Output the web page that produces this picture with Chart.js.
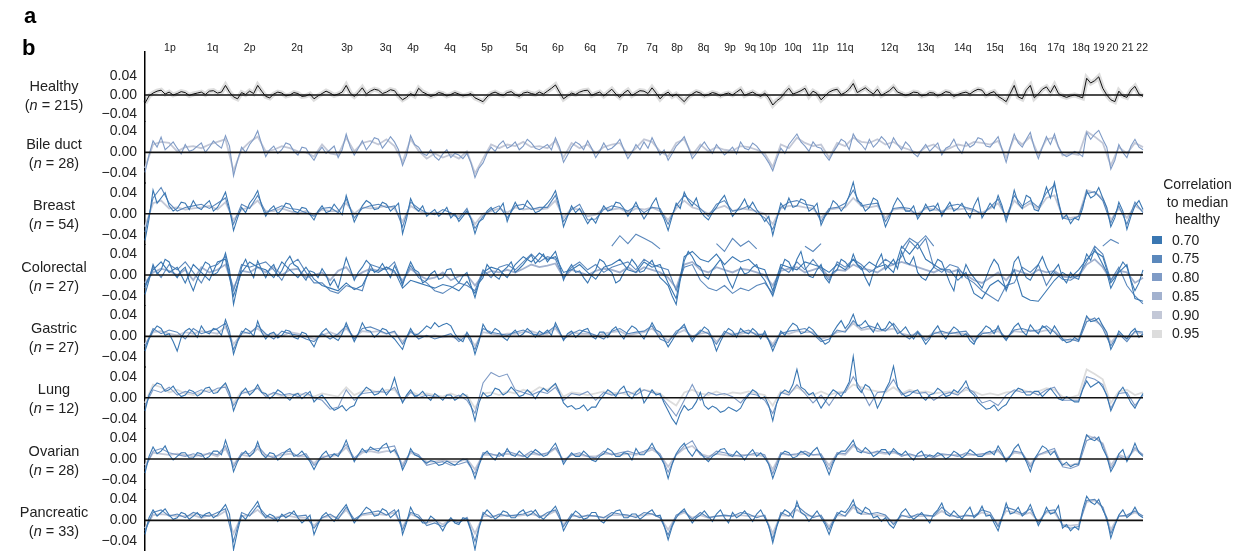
<!DOCTYPE html>
<html>
<head>
<meta charset="utf-8">
<script src="https://cdn.jsdelivr.net/npm/chart.js@4.4.1/dist/chart.umd.min.js"></script>
<style>
  body { margin: 0; background: #fff; font-family: 'Liberation Sans', Arial, sans-serif; color: #222; }
  #wrap { position: relative; width: 1259px; height: 551px; overflow: hidden; }
  #chart { position: absolute; left: 0; top: 0; }
  .panel { position: absolute; font-weight: bold; font-size: 22px; line-height: 22px; color: #000; }
  .rowlab { position: absolute; left: 4px; width: 100px; text-align: center; font-size: 14.5px; line-height: 19px; }
  #legend { position: absolute; left: 1150px; top: 176px; width: 95px; font-size: 14px; }
  #legend .ltitle { text-align: center; line-height: 17.5px; margin-bottom: 2px; }
  #legend .item { height: 18.8px; line-height: 18.8px; padding-left: 2px; white-space: nowrap; }
  #legend .sw { display: inline-block; width: 10px; height: 8px; margin-right: 10px; vertical-align: middle; position: relative; top: -1px; }
</style>
</head>
<body>
<div id="wrap">
  <canvas id="chart" width="1259" height="551"></canvas>
  <div class="panel" style="left:24px; top:5px;">a</div>
  <div class="panel" style="left:22px; top:37px;">b</div>
  <div id="legend">
    <div class="ltitle">Correlation<br>to median<br>healthy</div>
    <div id="litems"></div>
  </div>
</div>
<script>
// profile values are in units of 0.001; 125 coarse genome bins (some series at half-bin steps)
const binCount = 125;
const rowNames = ['Healthy', 'Bile duct', 'Breast', 'Colorectal', 'Gastric', 'Lung', 'Ovarian', 'Pancreatic'];
const rowCounts = [215, 28, 54, 27, 27, 12, 28, 33];
const yTicks = [-40, 0, 40];

const armLabels = ['1p','1q','2p','2q','3p','3q','4p','4q','5p','5q','6p','6q','7p','7q','8p','8q','9p','9q','10p','10q','11p','11q','12q','13q','14q','15q','16q','17q','18q','19','20','21','22'];
const armBins = [3.1,8.4,13.0,18.9,25.1,29.9,33.3,37.9,42.5,46.8,51.3,55.3,59.3,63.0,66.1,69.4,72.7,75.2,77.4,80.5,83.9,87.0,92.5,97.0,101.6,105.6,109.7,113.2,116.3,118.5,120.2,122.1,123.9];

const corrLevels = ['0.70', '0.75', '0.80', '0.85', '0.90', '0.95'];

const healthy = [
  -17,-2, 4,8, 10,2, 6,0, 3,7, 5,-1, 2,4, 6,1, 8,9, 4,6, 20,6, -4,-8, 5,1, 8,3, 20,8, -3,-6, 2,6, 4,-2, 0,5, 3,-3, -2,2, -8,-2, 3,8, 4,-1, 2,6,
  20,4, -3,5, 15,2, 8,12, 10,3, 6,11, 9,-2, -10,-5, 3,-2, 14,6, 2,-3, 0,5, 3,-2, 1,5, 2,-2, 0,3, -6,-10, -14,-4, 3,6, 2,-1, 5,7, 1,-3, 4,6, 3,1, 6,2,
  8,14, 21,6, -8,-2, 4,1, 6,9, 10,-1, 3,6, -2,5, 12,2, -5,4, 10,-1, 4,9, 8,3, 15,4, -8,1, 6,-3, 2,-6, -14,-4, 2,7, 4,-2, 1,5, 3,-2, 2,4, 0,6, 12,-1,
  3,6, 1,-3, 4,-6, -21,-12, -6,5, 14,2, 5,9, 14,-2, 8,3, -10,-2, 6,10, 12,1, 5,12, 24,5, 10,15, 8,2, 12,-1, 4,9, 17,6, 3,-1, 2,6, 5,-2, 0,5, 4,-2, 2,7,
  5,-3, 1,4, 6,2, 8,12, 10,-1, 4,7, -3,-8, -14,3, 20,-4, -8,10, 20,-6, 2,12, 17,5, 20,3, -2,-5, -2,0, -3,-6, 35,25, 30,38, 14,0, -10,-14, 8,-2, -5,10, 18,2, -3
];

const bileA = [
  -38,-5, 22,10, 29,5, 12,20, 8,-3, 15,2, 5,12, 18,0, 10,22, 14,8, 32,12, -45,-15, 10,0, 15,25, 41,15, -8,5, 12,-2, 5,18, 15,2, -5,10, 8,-5, -15,0, 10,-2, 5,12, -10,5,
  35,10, -5,8, 22,5, 15,28, 25,8, 18,30, 20,5, -25,-5, 32,15, 10,-2, -6,5, -8,-15, -3,5, -10,-2, -5,-12, -2,-20, -48,-30, -20,-2, 10,2, 15,22, 8,12, 20,5, 12,25, 18,8, 5,10,
  15,5, 28,10, -19,-5, 10,20, 15,5, 22,8, -10,2, 18,5, 8,15, 25,5, -12,0, 15,5, 20,8, 28,12, -5,5, -15,-2, 12,20, 30,10, -12,-2, 10,20, 8,-2, 15,5, -5,2, 10,-3, 20,8,
  5,18, 12,2, -8,-20, -35,-12, 8,-2, 15,25, 35,20, 12,2, 20,10, 8,-5, -15,0, 12,25, 20,5, 35,22, 15,5, 25,10, 18,30, 22,8, 28,15, 5,20, 12,-2, -8,5, 15,2, 10,18, -5,8,
  12,25, 8,-2, 20,10, 15,28, 25,12, 10,20, 30,5, -19,10, 35,18, 10,25, 38,8, -12,10, 30,15, 35,10, -3,-8, -4,2, -2,-8, 38,25, 35,42, 25,10, -32,-15, 15,0, -10,12, 25,10, 5
];
const bileB = [
  -30, 15, 20, 18, 2, 10, 12, 8, 15, 20, 25, -35, 5, 20, 30, 2, 5, 12, 8, 2, 0, -8, 15, -2, -5,
  28, 2, 18, 22, 15, 25, 12, -18, 25, 3, -12, -2, -10, -4, -12, 2, -40, -12, 15, 8, 15, 12, 20, 10, 12,
  8, 22, -10, 18, 8, 15, -2, 10, 15, 18, -5, 8, 25, 20, 2, -8, 18, 25, -5, 15, 2, 10, 5, 3, 12,
  10, 5, -2, -28, 15, 8, 28, 18, 12, 15, -10, 18, 12, 28, 20, 18, 25, 15, 20, 10, 5, -2, 10, 15, 2,
  8, 15, 12, 20, 18, 15, 22, -10, 28, 15, 30, -5, 25, 28, -6, -2, -5, 40, 30, 18, -25, 10, -2, 18, 10
];

const breastA = [
  -51,-10, 45,20, 30,40, 15,5, 10,22, 20,8, 25,12, 8,18, 25,5, 12,25, 41,10, -32,-8, 12,2, 20,30, 44,15, -5,8, 15,0, 8,20, 18,5, 2,12, 10,-2, -12,5, 15,2, 5,18, 8,-2,
  35,10, -16,0, 15,25, 20,8, 10,22, 18,5, 12,20, -38,-10, 29,12, 5,15, -5,2, 8,-5, 2,12, -8,0, -15,-5, 5,-10, -38,-15, -10,5, 12,0, 8,20, -15,5, 22,8, 10,25, 15,2, 5,12,
  20,30, 44,15, -25,-5, 15,2, 10,-5, -19,-8, -18,0, 15,5, 8,22, 20,10, -5,8, 22,5, -10,2, 18,30, 5,-10, -32,-5, 20,10, 41,25, 15,30, 5,-5, -12,2, 12,25, 35,15, -5,5, 15,28,
  10,22, 8,-2, -15,-5, -41,-10, 20,8, 30,12, 15,28, 25,5, 10,20, -22,-5, 5,25, 18,5, 15,35, 60,25, 20,5, 12,30, 25,2, -25,-8, 15,30, 20,5, 5,15, -10,2, 18,5, 8,20, -5,10,
  22,5, 10,20, 5,-8, 15,30, -8,5, 20,10, 35,15, -15,10, 45,20, 10,35, 30,8, 5,25, 51,30, 60,20, -10,-2, -19,-8, -12,10, 44,30, 35,50, 30,12, -25,-8, 22,5, -30,-5, 15,25, 8
];
const breastB = [
  -35, 30, 50, 20, 5, 12, 15, 18, 10, 20, 30, -20, 18, 10, 35, 2, 8, 15, 10, 8, 2, -5, 10, 12, 2,
  28, -8, 10, 15, 18, 12, 15, -25, 22, 10, 2, -2, 8, 2, -10, 10, -28, -5, 8, 15, -8, 15, 18, 8, 12,
  12, 35, -15, 8, 18, -12, -10, 8, 15, 12, 5, 15, 2, 12, 10, -20, 15, 35, 22, 10, -5, 18, 25, 5, 8,
  15, 2, -8, -30, 12, 22, 25, 18, 15, -15, 10, 12, 20, 45, 15, 18, 20, -15, 10, 12, 10, -5, 12, 15, 2,
  15, 18, 12, 8, -2, 12, 28, -8, 35, 15, 25, 12, 40, 55, -8, -12, -5, 38, 42, 25, -18, 15, -20, 22, 2
];
const breastC = [
  -25, 20, 25, 10, 12, 8, 10, 12, 15, 8, 22, -12, 8, 12, 25, 5, 5, 10, 5, 0, 5, -2, 8, 5, 5,
  20, 0, 12, 10, 12, 15, 10, -15, 15, 5, 0, 2, 0, -2, -5, 5, -20, 0, 5, 10, 2, 12, 8, 10, 8,
  10, 25, -8, 10, 8, -5, -2, 10, 8, 10, 2, 10, 8, 12, 5, -12, 10, 25, 12, 8, 0, 10, 15, 5, 10,
  8, 5, 0, -20, 10, 15, 15, 12, 10, -8, 8, 10, 12, 30, 15, 12, 15, -8, 8, 10, 5, 0, 10, 8, 5,
  10, 8, 10, 5, 2, 10, 20, -5, 25, 10, 20, 8, 30, 35, -5, -8, -5, 45, 40, 30, -12, 10, -8, 15, 5
];

const crcA = [
  -37,-10, 20,2, 10,30, 25,5, -5,8, 15,-12, -30,-8, 10,25, 20,0, 5,18, 42,10, -56,-20, 15,30, 10,-5, 27,10, -5,12, 20,-2, 8,25, 36,20, 15,0, -10,8, 5,-5, 12,0, -20,-8, -25,5,
  33,12, -10,5, 15,28, 20,5, 10,22, 8,-5, 18,2, -20,5, 25,10, 5,-15, -10,2, 8,-8, -5,10, 12,-5, -15,-2, 5,-20, -43,-15, -5,20, 10,-2, -8,8, 15,25, 5,12, 20,30, 38,22, 30,40,
  25,35, 45,20, -10,8, 20,5, 8,-5, -15,0, 10,30, 25,12, 5,-15, -10,5, 15,30, 20,5, 8,20, 28,10, -5,-12, -20,-40, -56,-10, 27,45, 35,20, 15,-2, -8,10, 20,30, 10,-10, -25,-5, 15,2,
  5,15, 20,0, -10,-25, -40,-15, 10,30, 25,8, 30,45, 15,-2, -5,10, 20,-5, -15,5, 10,30, 25,15, 40,20, 15,-5, -20,5, 25,40, 10,20, 30,12, 45,25, 20,35, 5,-5, -10,5, 15,30, 25,5,
  -15,-30, 10,-5, 20,5, -5,-15, -25,-5, 15,30, 20,-5, -30,-10, 25,35, 10,-5, -10,5, 20,35, 15,0, 10,20, -5,-15, 5,-5, -8,15, 40,28, 50,35, 20,5, -25,-10, 10,25, 15,-10, -30,-15, 10
];
const crcB = [
  -20, 10, 25, 5, 15, -15, 20, 5, -10, 25, 30, -40, 5, 25, 15, 10, -5, 25, 10, -5, 15, -8, -20, -25, -30,
  -15, -28, -20, 10, 5, 15, 8, -25, -10, -15, -20, -25, -18, -22, -30, -12, -35, 5, 15, 10, -5, 20, 35, 25, 42,
  30, 35, 5, 10, 20, 5, -8, 15, 20, 30, 10, 5, 25, 15, 20, -15, -45, 35, 45, 30, 25, 40, 20, 35, 25,
  30, 15, 10, -30, 20, 15, 10, 25, 20, 15, 5, 20, 10, 30, 10, 25, 15, 20, 5, 55, 40, 60, 30, 20, 10,
  10, -10, 5, -35, -45, -20, -10, -25, 10, -40, -48, -50, -30, -10, 5, -5, 10, 30, 45, 35, -15, 5, 20, -45, -50
];
const crcC = [
  -25, 15, -5, 20, 10, 25, 5, -15, 15, 20, 35, -30, 20, 15, 20, 25, 10, -10, 20, 30, 5, -15, -15, -30, -35,
  -20, -25, -30, 20, 15, 10, 25, -15, 18, -5, -15, -30, -35, -25, -15, -20, -30, 10, -5, 15, 20, 10, 25, 40, 25,
  35, 30, -5, 15, 25, 10, 20, 5, 15, 20, 25, 10, 30, 20, 15, 10, -30, 15, 20, -10, -25, -30, -20, -35, -25,
  -30, -20, -15, -35, 15, 5, 25, 10, 30, 10, -10, 25, 15, 30, 20, 5, 15, 30, 20, 35, 65, 50, 70, 15, 5,
  20, 15, -5, -15, -30, -40, -50, -20, -15, 15, 5, 20, -20, 5, -8, -10, 0, 25, 55, 40, -10, 15, -20, -40, -55
];
const crcD = [
  -15, 5, 12, 8, 0, 10, -10, 15, 5, 10, 20, -25, 8, 5, 15, 5, 15, 0, 10, 12, -5, 0, 5, -10, 8,
  15, -5, 5, 12, 8, 15, 5, -10, 12, 0, -8, -5, 5, -10, -2, 0, -20, 0, 8, 5, 10, 5, 12, 20, 15,
  18, 22, -5, 10, 5, 0, 8, 12, 10, 5, 15, 5, 15, 10, 5, -5, -25, 20, 25, 10, 5, 15, 10, 5, 12,
  10, 5, 0, -20, 8, 12, 15, 5, 10, 15, -5, 10, 8, 20, 12, 10, 5, 15, 20, 25, 20, 15, 10, 5, 12,
  5, 10, 0, -10, -15, -5, 5, -10, 10, 5, 0, 10, 5, 8, -3, -5, -2, 20, 30, 15, -10, 8, 5, -15, -5
];
// colorectal samples that sit far above the rest on a few arms: [first bin, values]
const crcSegments = [
  [58, [55, 75, 60, 78, 70, 62, 50]],
  [71, [60, 45, 70, 55, 65, 50]],
  [82, [55, 45, 60]],
  [94, [50, 70, 60, 75, 55]],
  [119, [55, 68, 60]]
];

const gastricA = [
  -28,-5, 10,20, 15,2, 5,-10, -28,-2, 10,15, 8,-2, 20,8, 5,15, 12,2, 32,10, -34,-10, 5,15, 10,0, 29,8, -5,5, 8,-3, 2,12, 10,-2, -5,8, 5,-8, -20,-2, 8,15, 5,-3, -8,5,
  26,8, -10,5, 26,12, 10,-2, 5,15, 12,2, -5,-15, -25,-2, 15,2, 5,12, 20,15, 26,18, 22,25, 20,5, -5,-10, 8,-5, -34,-10, 23,10, 5,15, 10,-2, -8,5, 12,0, 5,15, 8,-2, 10,5,
  12,2, 26,10, -8,5, 10,-2, 5,12, 15,0, -5,8, 8,-2, 12,18, 5,-5, 10,20, 15,5, -5,10, 26,12, 8,-5, -20,-8, 5,15, 23,5, -10,2, 8,18, 12,-5, -28,-10, 5,15, 10,-2, 15,8,
  5,15, 8,-5, 10,-8, -28,-10, 10,2, 15,25, 20,5, 8,18, 12,2, -5,-15, -10,8, 20,30, 15,25, 42,20, 22,30, 18,8, 25,12, 15,28, 20,5, 10,18, 5,-5, 8,-2, -15,-5, 10,20, 5,-5,
  8,18, 12,0, 5,-8, -15,2, 10,20, 15,5, 20,2, -8,5, 18,25, 10,2, 22,12, 5,20, 15,5, 20,8, -5,-12, -10,-2, -8,15, 39,28, 30,35, 20,8, -25,-10, 10,2, -5,8, 15,-2, 5
];
const gastricB = [
  -20, 15, 5, 12, 8, -5, 15, 5, 10, 15, 25, -25, 10, 5, 20, 5, -5, 10, 5, 2, -5, -10, 5, -5, 5,
  20, -5, 15, 18, 12, 5, 10, -15, 10, -5, 2, -5, 0, 5, -10, 2, -25, 15, 8, 5, 2, 8, 12, 5, 2,
  8, 20, -5, 5, 12, 8, 2, -5, 10, 15, 5, 8, 10, 20, -5, -12, 10, 18, -5, 12, 5, -15, 10, 2, 8,
  12, 2, 5, -20, 5, 10, 12, 15, 5, -10, -5, 12, 8, 30, 15, 20, 15, 10, 25, 5, -5, 10, -8, 5, 10,
  5, 8, 10, -10, 5, 8, 15, -5, 12, 15, 10, 12, 20, 8, -8, -5, -10, 28, 35, 15, -18, 5, -10, 10, 8
];
const gastricC = [
  -15, 8, 10, 5, 2, 8, 5, 10, 8, 5, 18, -15, 5, 8, 15, 2, 5, 0, 8, 5, 0, -5, 2, 8, 2,
  15, -2, 10, 8, 10, 5, 8, -10, 8, 2, 0, 2, -2, 0, -5, 5, -18, 8, 5, 2, 5, 5, 8, 10, 5,
  5, 15, -5, 8, 5, 5, 0, 5, 8, 10, 2, 5, 8, 15, 2, -8, 5, 12, 0, 5, 8, -10, 5, 5, 5,
  8, 5, 2, -15, 8, 5, 10, 8, 8, -5, 0, 8, 10, 25, 12, 15, 10, 12, 15, 5, 2, 5, -5, 8, 5,
  8, 5, 5, -5, 8, 5, 10, -2, 10, 8, 12, 8, 12, 10, -5, -8, -5, 35, 30, 20, -12, 5, -5, 8, 5
];

const lungA = [
  -25,5, 20,28, 25,12, 15,22, 10,2, 5,15, 12,3, 8,18, 20,8, 10,20, 28,10, -25,-5, 10,18, 5,12, 25,10, 8,-2, 5,15, 10,2, -5,5, 8,-2, 5,12, -8,0, 5,-5, -16,-24, -20,-15,
  -25,-18, -15,2, 10,20, 15,5, 8,18, 5,15, 38,10, -10,5, 15,2, 5,12, 2,-5, 8,2, -5,5, 5,-5, 0,8, 2,-15, -44,-10, 10,2, 5,18, 15,5, 10,20, 12,2, 5,15, 8,-2, 10,18,
  12,20, 27,10, -10,-18, -15,-22, -20,-14, -25,-18, -18,-5, 5,15, 10,2, 15,22, 5,-2, 10,18, -10,2, 15,5, 8,-10, -25,-40, -51,-30, -15,-24, -20,-8, 10,-15, -22,-16, -20,-28, -25,-18, -22,-26, -20,-5,
  5,15, 10,-2, 2,-15, -44,-10, 8,15, 10,25, 54,20, 15,5, 10,-5, -20,-8, 5,15, 10,2, 15,30, 79,20, 10,25, 20,5, -20,-5, 15,30, 60,20, 10,2, 5,12, 15,2, -5,5, 8,18, 12,2,
  5,15, 10,20, 32,12, 5,-8, -15,-22, -20,-14, -25,-18, -13,0, 10,18, 15,5, 5,12, 12,2, 10,18, 8,-2, -5,2, -3,-8, -8,15, 32,20, 25,30, 20,5, -25,-8, 10,20, 5,-10, -20,-5, 8
];
const lungB = [
  -15, 15, 10, 20, 5, 12, 8, 15, 10, 18, 20, -15, 8, 12, 18, 2, 10, 5, 8, 2, 10, 0, -5, -22, -18,
  15, -5, 8, 10, 12, 10, 20, -8, 10, 0, 5, 2, 0, -2, 5, -5, -30, 28, 48, 40, 45, 15, 10, 5, 12,
  8, 20, -5, 8, 5, 12, -5, 10, 5, 8, 12, 5, 15, 10, 5, -15, -35, -5, 25, -5, 10, 5, 8, 2, -10,
  8, 5, -5, -30, 10, 5, 25, 8, -10, 5, -15, 8, 10, 40, 15, -15, 10, 12, 35, 5, 12, 8, 10, -5, 5,
  10, 5, 20, 10, -10, -5, -15, 5, 15, 10, 12, 5, 15, 20, -5, -5, -5, 40, 35, 25, -20, 8, 10, -15, 5
];
const lungC = [
  -10, 25, 20, 10, 15, 8, 5, 10, 15, 12, 25, -10, 12, 8, 20, 5, 8, 2, 5, 8, 5, 2, 8, 5, 2,
  20, 5, 12, 15, 10, 15, 15, -5, 12, 5, 8, 5, 2, 8, 2, 5, -20, 8, 10, 5, 12, 8, 15, 10, 20,
  15, 25, 2, 10, 8, 5, 8, 12, 8, 10, 5, 12, 15, 12, 8, -5, -15, 10, 15, 8, 5, 12, 5, 10, 8,
  12, 8, 5, -15, 12, 8, 20, 10, 5, 12, 5, 10, 12, 25, 20, 15, 12, 10, 20, 8, 15, 10, 12, 8, 10,
  12, 8, 15, 12, 5, 8, 5, 10, 12, 15, 10, 12, 18, 15, 2, 0, 5, 54, 45, 35, -10, 12, 15, 5, 10
];

const ovarianA = [
  -27,5, 23,10, 15,25, 8,-2, 5,12, 12,2, 2,12, 10,0, 5,15, 15,8, 36,12, -24,-5, 8,15, 5,12, 33,10, 2,12, 10,-2, 5,15, 20,5, 8,15, 5,-5, -20,-5, 8,15, 2,10, 5,18,
  36,15, -5,8, 20,12, 23,18, 15,25, 30,12, 18,5, -21,-5, 20,8, 5,-2, -8,-3, -5,-12, -10,-4, -8,-12, -5,0, -2,-15, -37,-12, 8,15, 5,-2, 12,5, 20,8, 5,15, 8,2, 10,18, 12,5,
  8,20, 30,12, -10,2, 12,5, 5,15, 8,-2, -5,5, 10,20, 15,5, 5,12, 10,-2, 20,8, 8,18, 30,15, 5,-10, -37,-10, 10,22, 30,15, 5,18, 12,2, -5,5, 10,18, 20,8, 5,15, 8,-2,
  10,18, 5,12, 2,-10, -37,-15, 8,15, 12,2, 5,15, 10,5, 15,22, 5,-10, -30,-8, 8,15, 15,25, 36,15, 12,22, 15,5, 10,18, 18,8, 20,12, 8,15, 5,-2, 10,15, 2,8, 5,12, 8,0,
  5,15, 10,2, 8,18, 12,5, 5,12, 15,8, 25,12, -5,5, 20,28, 10,-5, -24,0, 12,25, 20,8, 15,-2, -12,-6, -15,-10, -10,20, 46,38, 35,42, 20,5, -24,-10, 10,18, -5,10, 30,12, 5
];
const ovarianB = [
  -18, 15, 20, 12, 8, 5, 10, 5, 12, 8, 25, -15, 12, 10, 25, 8, 2, 12, 15, 5, 10, -12, 2, 8, 10,
  28, 2, 15, 18, 20, 22, 25, -15, 15, 8, -12, -8, -5, -12, -10, -5, -28, 12, 10, 5, 15, 10, 5, 15, 8,
  12, 22, -5, 8, 12, 5, 2, 15, 8, 12, 15, 10, 15, 22, 10, -25, 8, 25, 35, 8, 2, 15, 12, 8, 5,
  8, 12, 8, -28, 12, 8, 10, 15, 8, 10, -20, 12, 10, 28, 15, 10, 15, 12, 15, 5, 10, 5, 8, 2, 10,
  8, 5, 12, 8, 10, 12, 18, -2, 15, 12, -15, 8, 15, 20, -15, -18, -12, 35, 42, 28, -18, 5, -2, 22, 8
];
const ovarianC = [
  -12, 12, 10, 8, 10, 8, 5, 8, 10, 5, 20, -10, 8, 5, 20, 5, 5, 8, 10, 5, 5, -8, 5, 5, 8,
  22, 0, 12, 15, 12, 15, 15, -10, 12, 5, -5, -5, -2, -5, -5, 0, -20, 8, 8, 8, 10, 8, 5, 10, 8,
  10, 20, -2, 8, 8, 5, 5, 10, 10, 8, 10, 8, 12, 18, 8, -15, 8, 20, 25, 10, 5, 10, 8, 5, 8,
  8, 8, 5, -20, 10, 8, 8, 10, 8, 8, -12, 10, 8, 25, 15, 12, 12, 10, 12, 8, 8, 5, 8, 5, 8,
  8, 8, 8, 8, 8, 10, 15, 0, 12, 10, -10, 8, 12, 15, -10, -12, -8, 45, 40, 30, -12, 8, 2, 18, 8
];

const pancA = [
  -27,5, 20,8, 15,22, 10,2, 5,15, 12,2, 8,15, 5,12, 15,5, 10,20, 30,12, -56,-20, 10,2, 15,25, 36,15, 5,12, 8,-2, 12,5, 10,18, 5,-5, 2,10, -27,-8, 8,15, 5,-2, 10,20,
  30,12, -5,5, 15,25, 20,8, 10,22, 18,5, 12,20, -27,-5, 25,10, 5,-5, -5,8, 2,-8, -20,-5, 5,-5, -8,5, 2,-20, -56,-15, 10,20, 12,2, 8,18, 15,5, 5,15, 20,8, 12,20, 8,2,
  10,18, 27,10, -20,-5, 8,18, 12,2, 5,15, 15,0, -5,5, 10,18, 20,5, 5,12, 12,2, 8,15, 20,8, 10,-10, -37,-12, 5,15, 22,8, -5,5, 10,18, 8,-2, 12,20, 5,-5, 15,5, 10,18,
  8,-2, 12,20, 5,-10, -43,-12, 10,20, 15,5, 36,15, 10,-2, 8,18, 5,-8, -27,-5, 10,18, 15,25, 39,15, 12,25, 20,5, 8,-2, 5,-8, -15,0, 15,22, 10,2, 8,15, 5,-5, 12,20, 33,12,
  8,18, 10,2, 15,25, 5,12, 27,8, 10,-5, -20,5, 33,12, 15,25, 8,15, 30,10, -10,5, 25,12, 15,28, -15,-8, -20,-12, -18,20, 46,35, 30,40, 20,5, -34,-10, 10,20, 5,12, 25,10, 5
];
const pancB = [
  -20, 15, 20, 8, 12, 5, 15, 10, 8, 15, 22, -40, 15, 8, 28, 10, 2, 8, 15, 8, 10, -15, 5, 12, 2,
  25, 2, 12, 15, 18, 10, 20, -18, 15, 10, -10, -5, -12, 0, -5, 5, -40, 15, 5, 12, 8, 10, 12, 18, 5,
  15, 20, -12, 12, 5, 10, 8, 5, 15, 12, 10, 5, 15, 12, 5, -28, 10, 18, 2, 15, 5, 8, 10, 8, 15,
  12, 5, 10, -35, 15, 8, 28, 15, 5, 10, -18, 15, 8, 30, 18, 12, 15, 10, -8, 10, 5, 12, 10, 8, 25,
  12, 5, 10, 8, 20, 15, -12, 25, 20, 12, 22, -5, 18, 20, -10, -15, -12, 38, 40, 25, -25, 8, 10, 18, 8
];
const pancC = [
  -15, 10, 12, 10, 8, 8, 10, 5, 10, 8, 18, -25, 8, 10, 20, 5, 5, 8, 8, 5, 5, -10, 5, 8, 5,
  20, 0, 10, 12, 12, 10, 15, -12, 12, 5, -5, 0, -8, 2, -2, 5, -25, 8, 8, 8, 10, 8, 10, 12, 8,
  10, 18, -8, 8, 8, 8, 8, 5, 10, 10, 8, 8, 10, 12, 5, -18, 8, 15, 5, 10, 5, 8, 8, 8, 10,
  8, 8, 8, -25, 10, 8, 20, 10, 8, 8, -12, 10, 8, 25, 12, 12, 10, 8, -5, 8, 8, 8, 8, 8, 18,
  8, 8, 8, 8, 15, 10, -8, 18, 15, 10, 15, -2, 15, 15, -8, -10, -8, 35, 38, 25, -18, 8, 8, 15, 8
];

// [row, values, correlation to median healthy]; darker first so they are drawn on top
const seriesList = [
  [3, crcA, '0.70'], [3, crcB, '0.70'], [5, lungA, '0.70'], [2, breastA, '0.70'],
  [4, gastricA, '0.70'], [6, ovarianA, '0.70'], [7, pancA, '0.70'],
  [3, crcC, '0.75'], [2, breastB, '0.75'], [4, gastricB, '0.75'], [7, pancB, '0.75'],
  [1, bileA, '0.80'], [5, lungB, '0.80'], [6, ovarianB, '0.80'],
  [3, crcD, '0.85'],
  [1, bileB, '0.90'], [2, breastC, '0.90'], [4, gastricC, '0.90'], [6, ovarianC, '0.90'], [7, pancC, '0.90'],
  [5, lungC, '0.95']
];

// styles
const corrColors = ['#3a77b2', '#5b88bc', '#7f9bc6', '#a3b2cf', '#c3c8d7', '#dddddd'];
const FONT = "'Liberation Sans', Arial, sans-serif";
const lastBin = binCount - 1;

function toPoints(values, start) {
  // full-length series may be sampled at half-bin steps
  const step = start === 0 ? lastBin / (values.length - 1) : 1;
  return values.map((v, i) => ({ x: start + i * step, y: v }));
}

function lineSet(values, start, row, color, width) {
  return {
    data: toPoints(values, start),
    yAxisID: 'r' + row,
    borderColor: color,
    borderWidth: width,
    pointRadius: 0,
    tension: 0,
    clip: false
  };
}

const datasets = [];
// zero reference lines on top of everything
rowNames.forEach((name, k) => {
  datasets.push(lineSet([0, 0], 0, k, '#111', 1.6));
});
datasets.push(lineSet(healthy, 0, 0, '#111', 1));
datasets.push(lineSet(healthy, 0, 0, 'rgba(0,0,0,0.13)', 5));
crcSegments.forEach(seg => {
  datasets.push(lineSet(seg[1], seg[0], 3, corrColors[1], 1.1));
});
seriesList.forEach(s => {
  const idx = corrLevels.indexOf(s[2]);
  datasets.push(lineSet(s[1], 0, s[0], corrColors[idx], idx >= 3 ? 1.8 : 1.1));
});

const scales = {
  x: { type: 'linear', display: false, min: 0, max: lastBin }
};
rowNames.forEach((name, k) => {
  scales['r' + k] = {
    type: 'linear',
    position: 'left',
    stack: 'rows',
    weight: 10 - k,
    stackWeight: k === 0 ? 69.8 : 61.4,
    min: k === 0 ? -56 : -58.5,
    max: k === 0 ? 90 : 58.5,
    grid: { display: false, drawTicks: false },
    border: { display: true, color: '#000', width: 1.5 },
    afterBuildTicks: s => { s.ticks = yTicks.map(v => ({ value: v })); },
    afterFit: s => { s.width = 145; s.paddingTop = 0; s.paddingBottom = 0; },
    ticks: {
      autoSkip: false,
      padding: 8,
      color: '#222',
      font: { family: FONT, size: 14 },
      callback: v => (v / 1000).toFixed(2).replace('-', '\u2212')
    }
  };
});

// chromosome arm names above the first row
const armLabelPlugin = {
  id: 'armLabels',
  afterDraw(chart) {
    const ctx = chart.ctx;
    const xs = chart.scales.x;
    ctx.save();
    ctx.font = '10.5px ' + FONT;
    ctx.fillStyle = '#222';
    ctx.textAlign = 'center';
    ctx.textBaseline = 'middle';
    armLabels.forEach((lab, i) => ctx.fillText(lab, xs.getPixelForValue(armBins[i]), chart.chartArea.top - 4));
    ctx.restore();
  }
};

const chart = new Chart(document.getElementById('chart'), {
  type: 'line',
  data: { datasets: datasets },
  options: {
    responsive: false,
    animation: false,
    devicePixelRatio: 1,
    layout: { padding: { top: 52, right: 116, bottom: 0, left: 0 } },
    plugins: { legend: { display: false }, tooltip: { enabled: false } },
    scales: scales
  },
  plugins: [armLabelPlugin]
});

// row names next to each row's zero line
const wrap = document.getElementById('wrap');
rowNames.forEach((name, k) => {
  const c = chart.scales['r' + k].getPixelForValue(0);
  const div = document.createElement('div');
  div.className = 'rowlab';
  div.style.top = (c - 17.5) + 'px';
  div.innerHTML = name + '<br>(<i>n</i> = ' + rowCounts[k] + ')';
  wrap.appendChild(div);
});

// correlation legend
const litems = document.getElementById('litems');
corrLevels.forEach((lvl, i) => {
  const d = document.createElement('div');
  d.className = 'item';
  d.innerHTML = '<span class="sw" style="background:' + corrColors[i] + '"></span>' + lvl;
  litems.appendChild(d);
});
</script>
</body>
</html>
